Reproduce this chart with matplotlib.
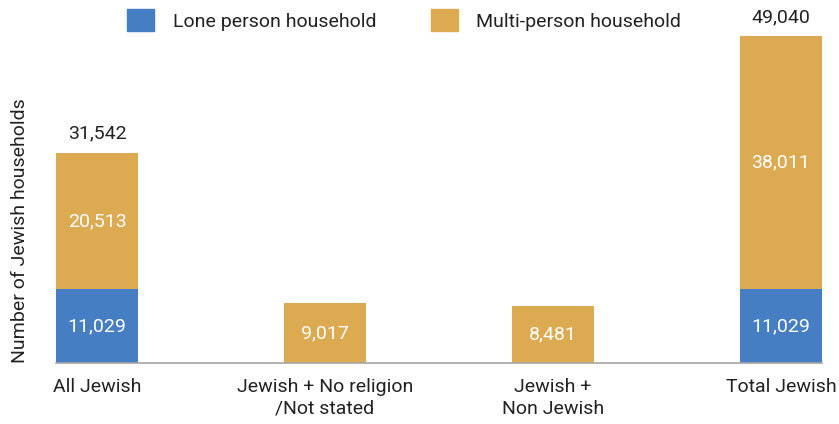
import matplotlib.pyplot as plt
from matplotlib.patches import Patch

plt.rcParams['font.family'] = ['Roboto', 'DejaVu Sans']

categories = ["All Jewish", "Jewish + No religion\n/Not stated",
              "Jewish +\nNon Jewish", "Total Jewish"]
lone = [11029, 0, 0, 11029]
multi = [20513, 9017, 8481, 38011]
totals_shown = {0: 31542, 3: 49040}

blue = "#457EC2"
gold = "#DCAA51"
fs = 14

fig = plt.figure(figsize=(8.39, 4.24), dpi=100)
ax = fig.add_axes([56 / 839, 61 / 424, 766 / 839, 346.7 / 424])

x = range(len(categories))
w = 0.36
ax.bar(x, lone, width=w, color=blue)
ax.bar(x, multi, width=w, bottom=lone, color=gold)

for i, (lv, mv) in enumerate(zip(lone, multi)):
    if lv:
        ax.text(i, lv / 2, f"{lv:,}", ha="center", va="center",
                color="white", fontsize=fs)
    ax.text(i, lv + mv / 2, f"{mv:,}", ha="center", va="center",
            color="white", fontsize=fs)
for i, t in totals_shown.items():
    ax.text(i, lone[i] + multi[i] + 1500, f"{t:,}", ha="center", va="bottom",
            color="#222222", fontsize=fs)

ax.set_xlim(-w / 2, len(categories) - 1 + w / 2)
ax.set_ylim(0, 52000)
ax.set_xticks(list(x))
ax.set_xticklabels(categories, fontsize=fs, color="#222222", linespacing=1.25)
ax.tick_params(axis="x", length=0, pad=11)
ax.set_yticks([])
for s in ["top", "right", "left"]:
    ax.spines[s].set_visible(False)
ax.spines["bottom"].set_color("#A6A6A6")
ax.spines["bottom"].set_linewidth(1.2)

fig.text(20 / 839, 1 - 231 / 424, "Number of Jewish households", rotation=90,
         ha="center", va="center", fontsize=fs, color="#222222")

handles = [Patch(color=blue, label="Lone person household"),
           Patch(color=gold, label="Multi-person household")]
fig.legend(handles=handles, loc="upper left", bbox_to_anchor=(127 / 839, 1 - 9 / 424),
           ncol=2, frameon=False, fontsize=fs, handlelength=1.4, handleheight=1.4,
           handletextpad=0.95, columnspacing=2.8, borderpad=0, borderaxespad=0,
           labelcolor="#222222")

fig.savefig("out.png", dpi=100)
